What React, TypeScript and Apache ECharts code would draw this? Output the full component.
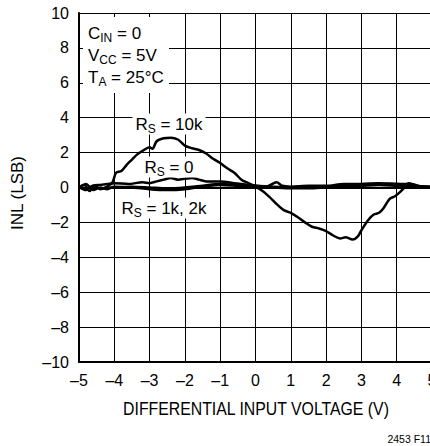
import React, { useEffect, useRef } from "react";
import * as echarts from "echarts";

// INL (LSB) vs differential input voltage (V)
const rs10k: [number, number][] = [
  [-5.0, 0.0], [-4.85, 0.15], [-4.7, -0.2], [-4.55, 0.1], [-4.4, -0.1], [-4.2, 0.05],
  [-4.05, 0.3], [-3.95, 0.85], [-3.8, 0.95], [-3.65, 1.3], [-3.5, 1.6], [-3.35, 1.9],
  [-3.2, 2.1], [-3.0, 2.3], [-2.92, 2.22], [-2.8, 2.65], [-2.6, 2.82], [-2.4, 2.85],
  [-2.2, 2.75], [-2.0, 2.4], [-1.8, 2.25], [-1.6, 2.15], [-1.4, 1.95], [-1.2, 1.65],
  [-1.0, 1.4], [-0.8, 1.1], [-0.6, 0.85], [-0.4, 0.45], [-0.2, 0.25], [0.0, 0.05],
  [0.2, -0.2], [0.4, -0.55], [0.6, -0.95], [0.8, -1.3], [1.0, -1.45], [1.2, -1.7],
  [1.4, -2.0], [1.6, -2.25], [1.8, -2.35], [2.0, -2.5], [2.2, -2.75], [2.4, -2.92],
  [2.55, -2.85], [2.75, -2.98], [2.9, -2.8], [3.0, -2.45], [3.2, -1.85], [3.35, -1.55],
  [3.5, -1.45], [3.62, -1.2], [3.8, -0.65], [3.95, -0.5], [4.1, -0.25], [4.22, 0.0],
  [4.33, 0.25], [4.4, 0.22], [4.5, 0.08], [4.7, 0.05], [5.0, 0.0],
];

const rs0: [number, number][] = [
  [-5.0, 0.05], [-4.8, -0.1], [-4.6, 0.1], [-4.4, 0.15], [-4.2, 0.2], [-4.0, 0.25],
  [-3.6, 0.2], [-3.2, 0.3], [-3.0, 0.25], [-2.8, 0.35], [-2.6, 0.45], [-2.4, 0.55],
  [-2.2, 0.45], [-2.0, 0.5], [-1.8, 0.55], [-1.6, 0.45], [-1.4, 0.35], [-1.0, 0.35],
  [-0.6, 0.25], [-0.2, 0.15], [0.0, 0.1], [0.3, 0.05], [0.6, 0.3], [0.75, 0.1],
  [1.0, 0.05], [1.5, 0.1], [2.0, 0.1], [2.5, 0.2], [3.0, 0.2], [3.5, 0.25],
  [4.0, 0.2], [4.4, 0.2], [4.7, 0.05], [5.0, 0.0],
];

const rs1k: [number, number][] = [
  [-5.0, 0.0], [-4.8, 0.2], [-4.6, -0.15], [-4.4, 0.0], [-4.2, -0.1], [-4.0, 0.05],
  [-3.5, 0.0], [-3.0, -0.1], [-2.5, -0.15], [-2.0, -0.1], [-1.5, 0.05], [-1.0, 0.15],
  [-0.5, 0.1], [0.0, 0.05], [0.5, 0.0], [1.0, -0.05], [1.5, -0.05], [2.0, 0.0],
  [2.5, 0.05], [3.0, 0.1], [3.5, 0.15], [4.0, 0.1], [4.5, 0.05], [5.0, 0.0],
];

const rs2k: [number, number][] = [
  [-5.0, 0.05], [-4.8, -0.15], [-4.6, 0.1], [-4.4, -0.05], [-4.0, 0.0], [-3.5, 0.05],
  [-3.0, 0.0], [-2.5, -0.05], [-2.0, 0.0], [-1.5, 0.1], [-1.0, 0.2], [-0.5, 0.15],
  [0.0, 0.1], [0.5, 0.05], [1.0, 0.0], [1.5, 0.05], [2.0, 0.05], [2.5, 0.1],
  [3.0, 0.15], [3.5, 0.2], [4.0, 0.2], [4.5, 0.1], [5.0, 0.05],
];

const xTitle = "DIFFERENTIAL INPUT VOLTAGE (V)";
const yTitle = "INL (LSB)";
const figId = "2453 F11";

const FONT = '"Liberation Sans", Arial, sans-serif';
const dash = (v: number) => String(v).replace("-", "\u2013");

const rich = {
  n: { fontSize: 17, fontFamily: FONT, color: "#000" },
  s: { fontSize: 12, fontFamily: FONT, color: "#000", padding: [9, 0, 0, 0] },
};

function label(parts: string, x: number, y: number, bg: boolean, align = "center") {
  return {
    type: "text",
    x,
    y,
    z: 5,
    style: {
      text: parts,
      rich,
      align,
      verticalAlign: "middle",
      backgroundColor: bg ? "#fff" : undefined,
      padding: bg ? [0, 3, 0, 3] : 0,
    },
  };
}

export default function App() {
  const ref = useRef<HTMLDivElement>(null);
  useEffect(() => {
    if (!ref.current) return;
    const chart = echarts.init(ref.current, undefined, { renderer: "svg" });
    const lineSeries = (data: [number, number][], name: string) => ({
      type: "line",
      name,
      data,
      showSymbol: false,
      smooth: 0.3,
      lineStyle: { color: "#000", width: 2.5 },
      z: 3,
    });
    chart.setOption({
      animation: false,
      backgroundColor: "#fff",
      grid: { left: 79, top: 13, right: -2, bottom: 84, show: false, outerBoundsMode: "none", containLabel: false },
      xAxis: [
        {
          type: "value",
          min: -5,
          max: 5,
          interval: 1,
          axisLine: { show: true, onZero: false, lineStyle: { color: "#000", width: 2 } },
          axisTick: { show: true, inside: true, length: 4, lineStyle: { color: "#000" } },
          splitLine: { show: true, lineStyle: { color: "#000", width: 1 } },
          axisLabel: {
            color: "#000",
            fontSize: 16,
            fontFamily: FONT,
            margin: 10,
            formatter: dash,
            hideOverlap: false,
          },
        },
        {
          type: "value",
          position: "top",
          min: -5,
          max: 5,
          interval: 1,
          axisLine: { show: true, lineStyle: { color: "#000", width: 2 } },
          axisTick: { show: true, inside: true, length: 4, lineStyle: { color: "#000" } },
          splitLine: { show: false },
          axisLabel: { show: false },
        },
      ],
      yAxis: {
        type: "value",
        min: -10,
        max: 10,
        interval: 2,
        axisLine: { show: true, onZero: false, lineStyle: { color: "#000", width: 2 } },
        axisTick: { show: true, inside: true, length: 4, lineStyle: { color: "#000" } },
        splitLine: { show: true, lineStyle: { color: "#000", width: 1 } },
        axisLabel: {
          color: "#000",
          fontSize: 16,
          fontFamily: FONT,
          margin: 10,
          formatter: dash,
        },
      },
      series: [
        lineSeries(rs10k, "RS = 10k"),
        lineSeries(rs0, "RS = 0"),
        lineSeries(rs1k, "RS = 1k"),
        lineSeries(rs2k, "RS = 2k"),
      ],
      graphic: [
        { type: "rect", z: 4, shape: { x: 83, y: 17, width: 86, height: 76 }, style: { fill: "#fff" } },
        label("{n|C}{s|IN}{n| = 0}", 88, 33, false, "left"),
        label("{n|V}{s|CC}{n| = 5V}", 88, 55, false, "left"),
        label("{n|T}{s|A}{n| = 25°C}", 88, 77, false, "left"),
        label("{n|R}{s|S}{n| = 10k}", 169, 124, true),
        label("{n|R}{s|S}{n| = 0}", 169, 167, true),
        label("{n|R}{s|S}{n| = 1k, 2k}", 164, 208, true),
        {
          type: "text",
          x: 256,
          y: 409,
          z: 5,
          scaleX: 0.88,
          style: { text: xTitle, fontSize: 18, fontFamily: FONT, fill: "#000", align: "center", verticalAlign: "middle" },
        },
        {
          type: "text",
          x: 17,
          y: 193,
          rotation: Math.PI / 2,
          z: 5,
          style: { text: yTitle, fontSize: 17, fontFamily: FONT, fill: "#000", align: "center", verticalAlign: "middle" },
        },
        {
          type: "text",
          x: 431,
          y: 439,
          z: 5,
          style: { text: figId, fontSize: 10.5, fontFamily: FONT, fill: "#000", align: "right", verticalAlign: "middle" },
        },
      ],
    });
    return () => chart.dispose();
  }, []);
  return (
    <div
      ref={ref}
      style={{ position: "absolute", left: 0, top: 0, width: 430, height: 446, overflow: "hidden" }}
    />
  );
}
